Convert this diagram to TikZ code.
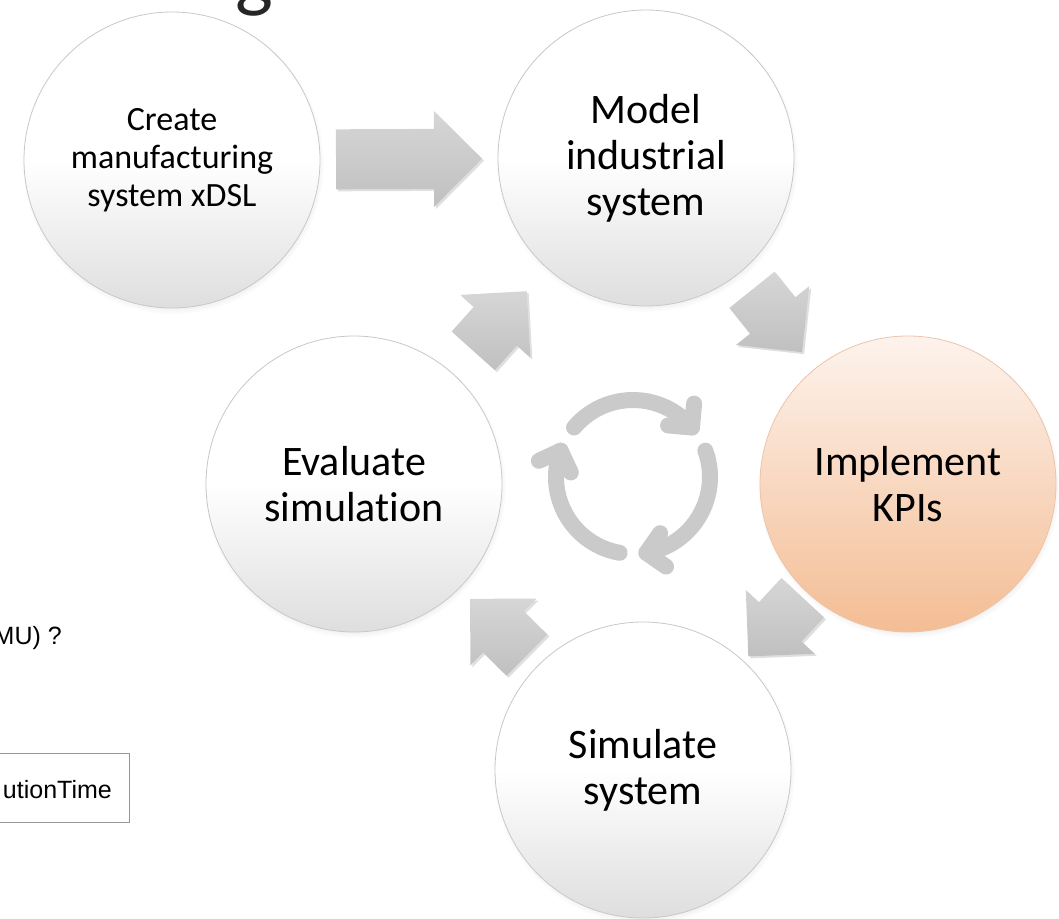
\documentclass[tikz,border=0pt]{standalone}
\usepackage{fontspec}
\setmainfont{Carlito}[Ligatures=CommonOff]
\newfontfamily\arialfont{Liberation Sans}
\usetikzlibrary{shadows,calc}

\definecolor{circedge}{RGB}{200,200,200}
\definecolor{circbot}{RGB}{222,222,222}
\definecolor{kpitop}{RGB}{253,243,237}
\definecolor{kpibot}{RGB}{244,189,148}
\definecolor{kpiedge}{RGB}{236,196,170}
\definecolor{arrtop}{RGB}{214,214,214}
\definecolor{arrbot}{RGB}{192,192,192}
\definecolor{cycgray}{RGB}{202,202,202}
\definecolor{boxedge}{RGB}{150,150,150}

\tikzset{
  arrowfill/.style={top color=arrtop, bottom color=arrbot, draw=none,
    drop shadow={opacity=0.25, shadow xshift=2pt, shadow yshift=-2pt}},
  pics/barrow/.style args={#1/#2/#3}{code={
    \path[arrowfill] (-#1/2,#3) -- (#1/2-#2,#3) -- (#1/2-#2,#2) -- (#1/2,0)
      -- (#1/2-#2,-#2) -- (#1/2-#2,-#3) -- (-#1/2,-#3) -- cycle;
  }}
}

\begin{document}
\begin{tikzpicture}[x=1pt,y=1pt,
  bub/.style={circle, minimum size=296pt, inner sep=0pt, draw=circedge, line width=0.8pt,
    top color=white, bottom color=circbot, middle color=white, align=center, text=black,
    circular drop shadow={shadow xshift=1pt, shadow yshift=-3pt, shadow scale=1.02, opacity=0.35}},
  kpibub/.style={bub, top color=kpitop, bottom color=kpibot, middle color={kpitop!50!kpibot}, draw=kpiedge},
  bigtext/.style={font=\fontsize{42}{46}\selectfont},
  smalltext/.style={font=\fontsize{34}{38}\selectfont},
  cyc/.style={draw=cycgray, line width=16pt, line cap=round, line join=round},
  sidetext/.style={font=\arialfont\fontsize{25}{28}\selectfont, text=black, inner sep=0pt}]

\useasboundingbox (0,0) rectangle (1059,-918);
\clip (0,0) rectangle (1059,-918);

% cut-off title letter
\node[anchor=base, font=\fontsize{80}{80}\selectfont, text=black!85, inner sep=0pt] (ttl) at (254,-2) {g};

% cut-off side texts
\node[sidetext, anchor=base east] (q) at (62,-644) {MU) ?};
\draw[boxedge, line width=1pt, fill=white] (-5,-753) rectangle (129,-822);
\node[sidetext, anchor=base east] (et) at (112,-798) {utionTime};

% circles
\node[bub, smalltext] (create) at (172,-160) {Create\\manufacturing\\system xDSL};
\node[bub, bigtext] (model) at (646,-158) {Model\\industrial\\system};
\node[kpibub, bigtext] (kpi) at (908,-484) {Implement\\KPIs};
\node[bub, bigtext] (sim) at (643,-770) {Simulate\\system};
\node[bub, bigtext] (eval) at (354,-484) {Evaluate\\simulation};

% block arrows between the circles
\path let \p1=($(model.center)-(create.center)$), \n1={atan2(\y1,\x1)} in
  ($(create.center)!0.5!(model.center)$) pic[rotate=\n1] {barrow=146/48/30};
\path let \p1=($(kpi.center)-(model.center)$), \n1={atan2(\y1,\x1)} in
  ($(model.center)!0.5!(kpi.center)$) pic[rotate=\n1] {barrow=80/47/29};
\path let \p1=($(sim.center)-(kpi.center)$), \n1={atan2(\y1,\x1)} in
  ($(kpi.center)!0.5!(sim.center)$) pic[rotate=\n1] {barrow=80/47/29};
\path let \p1=($(eval.center)-(sim.center)$), \n1={atan2(\y1,\x1)} in
  ($(sim.center)!0.5!(eval.center)$) pic[rotate=\n1] {barrow=80/47/29};
\path let \p1=($(model.center)-(eval.center)$), \n1={atan2(\y1,\x1)} in
  ($(eval.center)!0.5!(model.center)$) pic[rotate=\n1] {barrow=80/47/29};

% central cycle icon
\coordinate (ic) at (633,-477);
\foreach \k in {0,1,2}{
  \begin{scope}[shift={(ic)}, rotate=-120*\k]
    \draw[cyc] (140:77) arc[start angle=140, end angle=40, radius=77pt];
    \draw[cyc] ([shift={(175:24)}]40:77) -- (40:77) -- ++(85:24);
  \end{scope}
}
\end{tikzpicture}
\end{document}
